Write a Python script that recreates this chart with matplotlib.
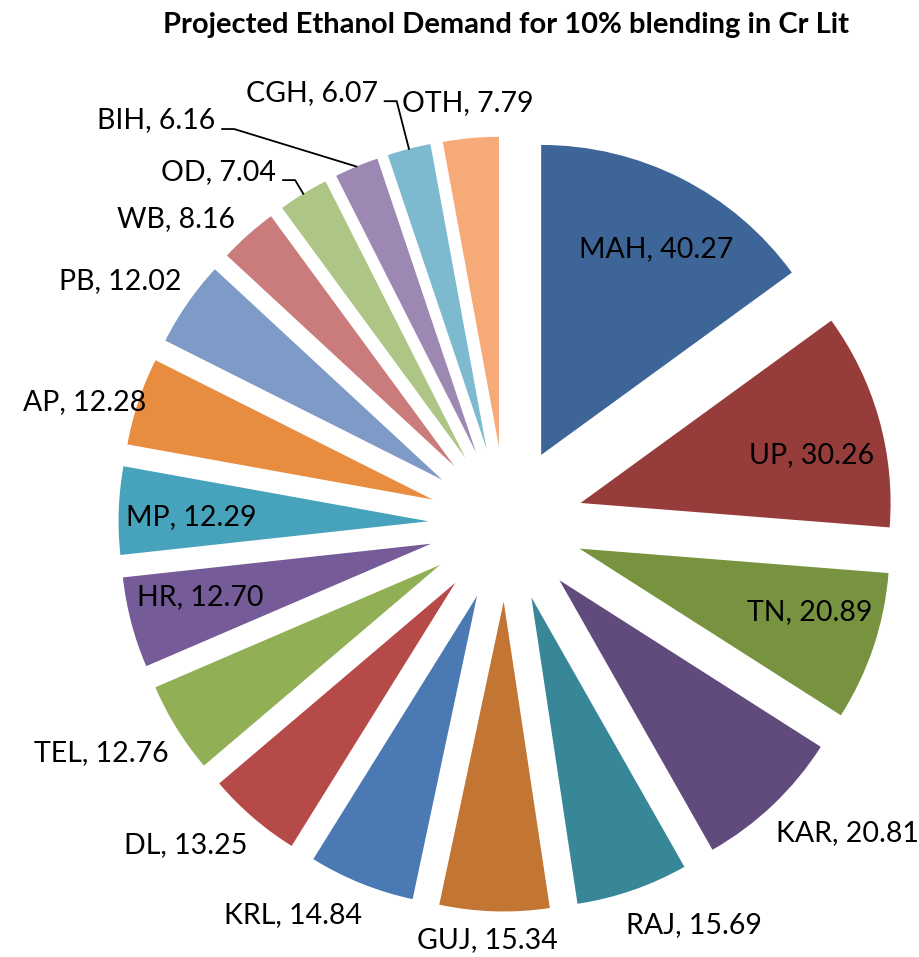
import numpy as np
import matplotlib
matplotlib.use('Agg')
import matplotlib.pyplot as plt

# --- Dados (Cr Lit) ---
estados = ['MAH', 'UP', 'TN', 'KAR', 'RAJ', 'GUJ', 'KRL', 'DL', 'TEL',
           'HR', 'MP', 'AP', 'PB', 'WB', 'OD', 'BIH', 'CGH', 'OTH']
demanda = [40.27, 30.26, 20.89, 20.81, 15.69, 15.34, 14.84, 13.25, 12.76,
           12.70, 12.29, 12.28, 12.02, 8.16, 7.04, 6.16, 6.07, 7.79]

titulo = 'Projected Ethanol Demand for 10% blending in Cr Lit'

# --- Estilo (paleta tipo Excel) ---
cores = ['#3D6597', '#963C3A', '#77933F', '#614B7C', '#378799', '#C37533',
         '#4A79B3', '#B54A48', '#91AF54', '#755B97', '#47A3BC', '#E88C40',
         '#7E9AC7', '#C97C7B', '#ADC585', '#9C88B3', '#7DB9CF', '#F6AA78']

# posição dos rótulos: raio e desvio angular (graus) em relação ao meio da fatia
rot_raio = [1.010, 1.009, 1.021, 1.485, 1.429, 1.343, 1.436, 1.462, 1.501,
            1.015, 1.016, 1.414, 1.470, 1.449, 1.322, 1.569, 1.419, 1.364]
rot_desvio = [-1.6, -3.0, 2.4, 4.3, 6.0, -0.9, -6.7, -4.2, -2.3,
              -1.35, 0.7, 2.3, 2.6, 5.5, 1.4, 13.0, 1.5, -0.06]
com_linha = ['OD', 'BIH', 'CGH']

W, H = 920, 957
cx, cy, R = 506, 524, 310          # centro e raio da pizza em pixels
EXPLODE = 0.25

plt.rcParams['font.family'] = ['Lato', 'DejaVu Sans']

fig = plt.figure(figsize=(W / 100, H / 100), dpi=100)
ax = fig.add_axes([0, 0, 1, 1])

wedges, _ = ax.pie(demanda, colors=cores, startangle=90, counterclock=False,
                   explode=[EXPLODE] * len(demanda), radius=1,
                   wedgeprops=dict(linewidth=0))

ax.set_aspect('auto')
ax.set_xlim(-cx / R, (W - cx) / R)
ax.set_ylim(-(H - cy) / R, cy / R)
ax.axis('off')

px = 1 / R
for w, nome, val, r, d in zip(wedges, estados, demanda, rot_raio, rot_desvio):
    meio = np.deg2rad((w.theta1 + w.theta2) / 2)
    ang = meio + np.deg2rad(d)
    x, y = r * np.cos(ang), r * np.sin(ang)
    texto = f'{nome}, {val:.2f}'
    if nome in com_linha:
        # linha guia até a borda externa da fatia
        fx = (1 + EXPLODE) * np.cos(meio)
        fy = (1 + EXPLODE) * np.sin(meio)
        ax.plot([x, x + 12 * px, fx], [y, y, fy], color='black', lw=1.3,
                solid_joinstyle='miter')
        ax.text(x - 7 * px, y + 8.5 * px, texto, ha='right', va='center',
                fontsize=20.5, color='black')
    else:
        ax.text(x, y, texto, ha='center', va='center', fontsize=20.5,
                color='black')

fig.text(cx / W, 1 - 25 / H, titulo, ha='center', va='center',
         fontsize=21, fontweight='bold')

fig.savefig('out.png', dpi=100)
